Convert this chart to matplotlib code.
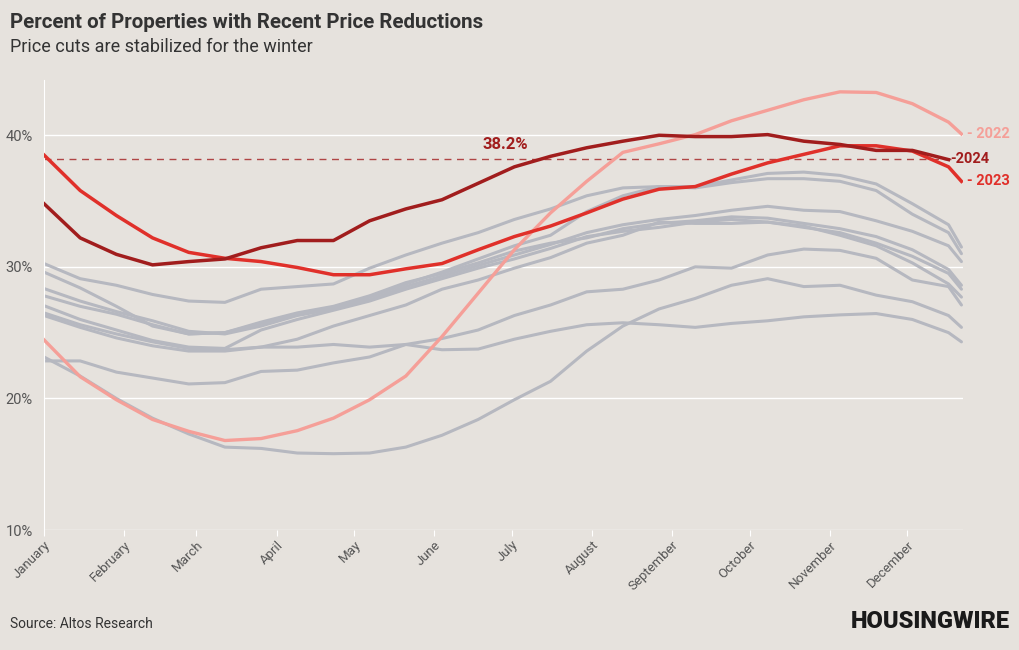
import numpy as np
import matplotlib.pyplot as plt

# sample points (day of year), every two weeks
days = [0, 14, 28, 42, 56, 70, 84, 98, 112, 126, 140, 154, 168, 182, 196,
        210, 224, 238, 252, 266, 280, 294, 308, 322, 336, 350, 355]

y2022 = [24.45, 21.65, 19.9, 18.4, 17.5, 16.8, 16.95, 17.55, 18.5, 19.9, 21.7, 24.7,
         28.0, 31.3, 34.1, 36.5, 38.7, 39.35, 40.05, 41.1, 41.9, 42.7, 43.3, 43.25,
         42.4, 41.0, 40.1]
y2023 = [38.5, 35.8, 33.9, 32.2, 31.1, 30.65, 30.4, 29.95, 29.4, 29.4, 29.85, 30.25,
         31.3, 32.3, 33.1, 34.1, 35.15, 35.9, 36.1, 37.05, 37.9, 38.55, 39.2, 39.2,
         38.8, 37.6, 36.5]
y2024 = [34.8, 32.2, 30.95, 30.15, 30.4, 30.6, 31.45, 32.0, 32.0, 33.5, 34.4, 35.1,
         36.35, 37.6, 38.4, 39.05, 39.55, 40.0, 39.9, 39.9, 40.05, 39.55, 39.3, 38.85,
         38.85, 38.15]

# earlier years, all in gray
gray_years = [
    [30.25, 29.1, 28.6, 27.9, 27.4, 27.3, 28.3, 28.5, 28.7, 29.9, 30.9, 31.8, 32.6, 33.6,
     34.4, 35.4, 36.0, 36.1, 36.1, 36.6, 37.1, 37.2, 36.95, 36.3, 34.8, 33.2, 31.5],
    [29.6, 28.4, 27.0, 25.5, 24.9, 25.0, 25.7, 26.4, 26.9, 27.7, 28.7, 29.6, 30.6, 31.6,
     32.4, 34.2, 35.4, 36.1, 36.0, 36.4, 36.7, 36.7, 36.5, 35.8, 34.0, 32.6, 31.0],
    [28.35, 27.4, 26.6, 25.9, 25.1, 24.9, 25.5, 26.3, 26.8, 27.5, 28.5, 29.3, 30.1, 30.9,
     31.7, 32.6, 33.2, 33.6, 33.9, 34.3, 34.6, 34.3, 34.2, 33.5, 32.7, 31.6, 30.4],
    [27.8, 27.0, 26.4, 25.6, 24.9, 25.0, 25.8, 26.5, 27.0, 27.8, 28.8, 29.5, 30.3, 31.2,
     31.8, 32.2, 32.9, 33.3, 33.5, 33.8, 33.7, 33.3, 32.9, 32.3, 31.3, 29.8, 28.6],
    [27.05, 26.0, 25.2, 24.4, 23.9, 23.8, 25.2, 26.0, 26.7, 27.4, 28.3, 29.1, 29.9, 30.6,
     31.4, 32.3, 32.7, 33.0, 33.4, 33.6, 33.4, 33.0, 32.6, 31.8, 30.8, 29.5, 28.3],
    [26.5, 25.6, 24.9, 24.3, 23.8, 23.7, 23.9, 24.5, 25.5, 26.3, 27.1, 28.3, 29.0, 29.9,
     30.7, 31.8, 32.4, 33.4, 33.3, 33.3, 33.4, 33.1, 32.4, 31.6, 30.3, 28.7, 27.7],
    [26.3, 25.4, 24.6, 24.0, 23.6, 23.6, 23.9, 23.9, 24.1, 23.9, 24.1, 23.7, 23.75, 24.5,
     25.1, 25.6, 25.75, 25.6, 25.4, 25.7, 25.9, 26.2, 26.35, 26.45, 26.0, 25.0, 24.3],
    [23.15, 21.7, 20.0, 18.5, 17.3, 16.3, 16.2, 15.85, 15.8, 15.85, 16.3, 17.2, 18.4, 19.9,
     21.3, 23.6, 25.5, 26.8, 27.6, 28.6, 29.1, 28.5, 28.6, 27.85, 27.35, 26.3, 25.4],
    [22.85, 22.85, 22.0, 21.55, 21.1, 21.2, 22.05, 22.15, 22.7, 23.15, 24.1, 24.55, 25.2,
     26.3, 27.1, 28.1, 28.3, 29.0, 30.0, 29.9, 30.9, 31.35, 31.25, 30.65, 29.0, 28.5, 27.1],
]

months = ['January', 'February', 'March', 'April', 'May', 'June', 'July',
          'August', 'September', 'October', 'November', 'December']
month_days = [0, 31, 59, 90, 120, 151, 181, 212, 243, 273, 304, 334]
avg_2024 = 38.2

bg = '#e6e2dd'
plt.rcParams['font.family'] = ['Roboto', 'DejaVu Sans']

fig = plt.figure(figsize=(10.2, 6.5), dpi=100, facecolor=bg)
ax = fig.add_axes([44 / 1020, 1 - 530 / 650, (963 - 44) / 1020, 450 / 650])
ax.set_facecolor(bg)

for g in gray_years:
    ax.plot(days, g, color='#b6b8c0', lw=2.2, solid_capstyle='round', zorder=2)

ax.plot(days, y2022, color='#f59f98', lw=2.4, zorder=3)
ax.plot(days, y2023, color='#e0302a', lw=2.5, zorder=4)
ax.plot(days[:len(y2024)], y2024, color='#a11d1d', lw=2.5, zorder=5)

# 2024 average line
ax.plot([0, 352], [avg_2024, avg_2024], color='#b04545', lw=1, ls=(0, (5, 4)), zorder=1)
ax.text(178.5, avg_2024 + 0.55, '38.2%', color='#a11d1d', fontsize=12, fontweight='bold',
        ha='center', va='bottom')

# end labels
ax.text(357, y2022[-1], '- 2022', color='#f59f98', fontsize=10.5, fontweight='bold',
        va='center', ha='left', clip_on=False)
ax.text(350.5, avg_2024, '-2024', color='#a11d1d', fontsize=10.5, fontweight='bold',
        va='center', ha='left', clip_on=False)
ax.text(357, y2023[-1], '- 2023', color='#e0302a', fontsize=10.5, fontweight='bold',
        va='center', ha='left', clip_on=False)

ax.set_xlim(0, 355.6)
ax.set_ylim(10, 44.2)
ax.set_yticks([10, 20, 30, 40])
ax.set_yticklabels(['10%', '20%', '30%', '40%'])
ax.set_xticks(month_days)
ax.set_xticklabels(months, rotation=45, ha='right', va='top', rotation_mode='anchor')
ax.grid(axis='y', color='white', lw=1)
ax.set_axisbelow(True)
for s in ['top', 'right', 'bottom']:
    ax.spines[s].set_visible(False)
ax.spines['left'].set_color('white')
ax.tick_params(axis='y', length=0, labelsize=10.5, labelcolor='#555555', pad=8)
ax.tick_params(axis='x', length=4, color='white', labelsize=9.5, labelcolor='#555555', pad=2)

fig.text(10 / 1020, 1 - 22 / 650, 'Percent of Properties with Recent Price Reductions',
         fontsize=14.8, fontweight='bold', color='#333333', va='center')
fig.text(10 / 1020, 1 - 47 / 650, 'Price cuts are stabilized for the winter',
         fontsize=13, color='#333333', va='center')
fig.text(10 / 1020, 1 - 624 / 650, 'Source: Altos Research', fontsize=10,
         color='#333333', va='center')
fig.text(1010 / 1020, 1 - 622 / 650, 'HOUSINGWIRE', fontsize=17, fontweight='heavy',
         color='#1a1a1a', va='center', ha='right')

fig.savefig('out.png', dpi=100, facecolor=bg)
